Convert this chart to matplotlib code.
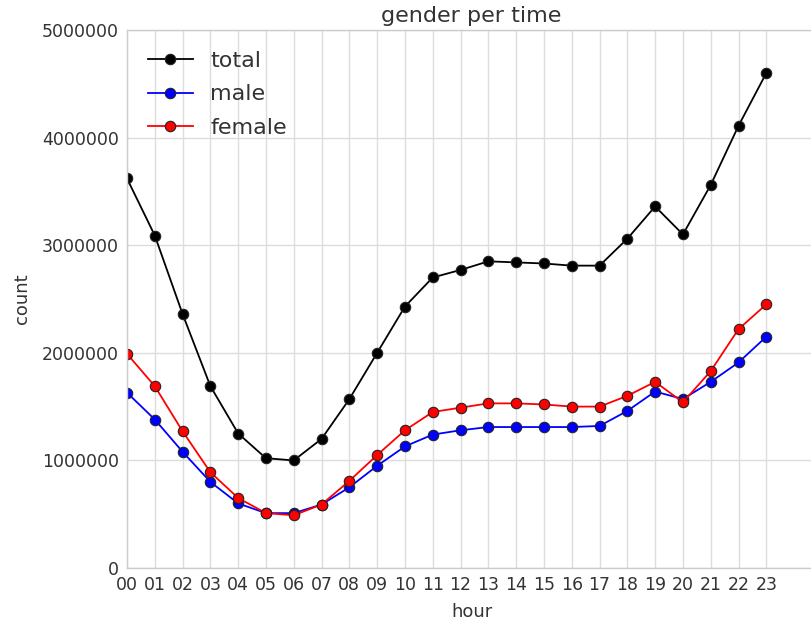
import matplotlib
matplotlib.use("Agg")
import matplotlib.pyplot as plt

hours = ["00","01","02","03","04","05","06","07","08","09","10","11",
         "12","13","14","15","16","17","18","19","20","21","22","23"]
total = [3620000, 3090000, 2360000, 1690000, 1250000, 1020000, 1000000, 1200000,
         1570000, 2000000, 2430000, 2700000, 2770000, 2850000, 2840000, 2830000,
         2810000, 2810000, 3060000, 3360000, 3100000, 3560000, 4110000, 4600000]
male = [1630000, 1380000, 1080000, 800000, 600000, 510000, 510000, 590000,
        750000, 950000, 1130000, 1240000, 1280000, 1310000, 1310000, 1310000,
        1310000, 1320000, 1460000, 1640000, 1570000, 1730000, 1910000, 2150000]
female = [1990000, 1690000, 1270000, 890000, 650000, 510000, 490000, 590000,
          810000, 1050000, 1280000, 1450000, 1490000, 1530000, 1530000, 1520000,
          1500000, 1500000, 1600000, 1730000, 1540000, 1830000, 2220000, 2450000]
yticks = [0, 1000000, 2000000, 3000000, 4000000, 5000000]

txt = "#333333"
plt.rcParams['font.family'] = ['DejaVu Sans']
fig = plt.figure(figsize=(8.11, 6.22), dpi=100)
ax = fig.add_axes([0.1566, 0.0868, 0.8500, 0.8650])

x = list(range(len(hours)))
for vals, col, lab in [(total, "black", "total"), (male, "blue", "male"), (female, "red", "female")]:
    ax.plot(x, vals, color=col, marker="o", markersize=7.5, markeredgecolor="#222222",
            markeredgewidth=0.8, linewidth=1.3, label=lab, clip_on=True)

ax.set_xlim(0, 24.8)
ax.set_ylim(0, 5000000)
ax.set_xticks(x)
ax.set_xticklabels(hours)
ax.set_yticks(yticks)
ax.set_yticklabels([str(v) for v in yticks])
ax.grid(True, color="#dcdcdc", linewidth=1)
ax.set_axisbelow(True)
for s in ax.spines.values():
    s.set_color("#cccccc")
    s.set_linewidth(1)
ax.tick_params(length=0, labelsize=12.5, colors=txt, pad=6)
ax.set_xlabel("hour", fontsize=13, color=txt, labelpad=6)
ax.set_ylabel("count", fontsize=13, color=txt, labelpad=8)
ax.set_title("gender per time", fontsize=16, color=txt, pad=6)
leg = ax.legend(loc="upper left", fontsize=16, frameon=False, borderaxespad=0.55,
                handlelength=2.0, labelspacing=0.6, numpoints=1)
for t in leg.get_texts():
    t.set_color(txt)
fig.savefig("out.png", dpi=100)
